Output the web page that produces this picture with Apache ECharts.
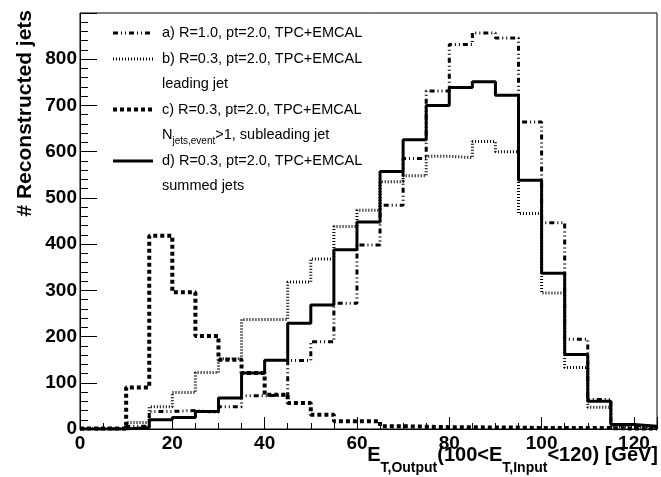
<!DOCTYPE html>
<html><head><meta charset="utf-8">
<script src="https://cdn.jsdelivr.net/npm/echarts@6/dist/echarts.min.js"></script>
<style>html,body{margin:0;padding:0;background:#fff}#c{width:661px;height:477px}</style>
</head><body><div id="c"></div>
<script>
// Bin edges (GeV) and histogram contents
const binEdges = [0,5,10,15,20,25,30,35,40,45,50,55,60,65,70,75,80,85,90,95,100,105,110,115,120,125];
const seriesA = [0,0,6,38,40,36,48,72,73,148,189,272,398,484,585,731,832,857,846,664,446,194,64,8,4];
const seriesB = [0,0,14,48,79,122,152,237,237,318,368,438,473,535,548,590,587,622,600,466,294,133,47,5,2];
const seriesC = [1,1,90,418,296,201,150,121,74,56,31,17,17,6,5,4,4,3,3,2,2,2,2,1,1];
const seriesD = [0,0,3,20,25,38,67,121,149,229,268,388,448,557,626,700,739,751,722,538,337,161,60,10,6];
const yTicks = [0,100,200,300,400,500,600,700,800];
const xTicks = [0,20,40,60,80,100,120];
const legendLabels = [
  'a) R=1.0, pt=2.0, TPC+EMCAL',
  'b) R=0.3, pt=2.0, TPC+EMCAL',
  'leading jet',
  'c) R=0.3, pt=2.0, TPC+EMCAL',
  '{m|N}{s|jets,event}{m|>1, subleading jet}',
  'd) R=0.3, pt=2.0, TPC+EMCAL',
  'summed jets'
];
const yTitle = '# Reconstructed jets';
const xTitle = '{m|E}{s|T,Output}{m|(100<E}{s|T,Input}{m|<120) [GeV]}';

const FF = "'Liberation Sans', Arial, Helvetica, sans-serif";
function hist(vals){
  const d = vals.map((v,i)=>[binEdges[i], v]);
  d.push([binEdges[vals.length], vals[vals.length-1]]);
  return d;
}
const styles = {
  a: {width:3, type:[5,3,1,3,1,3]},
  b: {width:3, type:[1,2]},
  c: {width:4, type:[4,3]},
  d: {width:3, type:'solid'}
};
function mk(name, vals, st){
  return {name, type:'line', step:'end', data:hist(vals), xAxisIndex:0, yAxisIndex:0,
    symbol:'none', showSymbol:false, animation:false,
    lineStyle:{color:'#000', width:st.width, type:st.type, cap:'butt'}};
}
const chart = echarts.init(document.getElementById('c'), null, {renderer:'canvas'});

const legendRows = [
  {y:33, st:styles.a, text:legendLabels[0]},
  {y:59, st:styles.b, text:legendLabels[1]},
  {y:84, st:null, text:legendLabels[2]},
  {y:109.5, st:styles.c, text:legendLabels[3]},
  {y:135, st:null, text:legendLabels[4], rich:true},
  {y:161, st:styles.d, text:legendLabels[5]},
  {y:186, st:null, text:legendLabels[6]}
];
const graphics = [];
legendRows.forEach(r=>{
  if (r.st) {
    graphics.push({type:'line', shape:{x1:113,y1:r.y,x2:153,y2:r.y},
      style:{stroke:'#000', lineWidth:r.st.width, lineDash: r.st.type==='solid'?null:r.st.type}});
  }
  if (r.rich) {
    graphics.push({type:'text', x:162, y:r.y-8, style:{text:r.text, fill:'#000',
      textAlign:'left', textVerticalAlign:'top',
      rich:{
        m:{fontSize:14.5, fontFamily:FF, lineHeight:16, verticalAlign:'top', fill:'#000', color:'#000'},
        s:{fontSize:10, fontFamily:FF, lineHeight:10, padding:[9,0,0,0], verticalAlign:'top', fill:'#000', color:'#000'}
      }}});
  } else {
    graphics.push({type:'text', x:162, y:r.y, style:{text:r.text, fill:'#000',
      font:'14.5px '+FF, textAlign:'left', textVerticalAlign:'middle'}});
  }
});
graphics.push({type:'text', x:25, y:10, rotation:Math.PI/2, style:{text:yTitle, fill:'#000',
  font:'bold 21px '+FF, textAlign:'right', textVerticalAlign:'middle'}});
graphics.push({type:'text', x:658, y:445, style:{text:xTitle, fill:'#000',
  textAlign:'right', textVerticalAlign:'top',
  rich:{
    m:{fontSize:20, fontWeight:'bold', fontFamily:FF, lineHeight:22, verticalAlign:'top', fill:'#000', color:'#000'},
    s:{fontSize:14, fontWeight:'bold', fontFamily:FF, lineHeight:14, padding:[16,0,0,0], verticalAlign:'top', fill:'#000', color:'#000'}
  }}});

const option = {
  animation:false,
  backgroundColor:'#fff',
  grid:{left:80, right:4, top:13, bottom:48, show:true, borderColor:'#000', borderWidth:1,
    backgroundColor:'#fff', containLabel:false, outerBoundsMode:'none'},
  xAxis:[
    {type:'value', min:0, max:125, interval:20, position:'bottom',
      axisLine:{show:true, lineStyle:{color:'#000', width:1}},
      axisTick:{show:true, inside:true, length:12, lineStyle:{color:'#000', width:1}},
      axisLabel:{show:true, margin:5, color:'#000', fontSize:19, fontWeight:'bold', fontFamily:FF,
        formatter:v=> xTicks.indexOf(v)>=0 ? String(v) : '', hideOverlap:false},
      splitLine:{show:false}},
    {type:'value', min:0, max:125, interval:5, position:'bottom',
      axisLine:{show:false},
      axisTick:{show:true, inside:true, length:6, lineStyle:{color:'#000', width:1}},
      axisLabel:{show:false}, splitLine:{show:false}}
  ],
  yAxis:{type:'value', min:0, max:900, interval:100,
    axisLine:{show:true, lineStyle:{color:'#000', width:1}},
    axisTick:{show:true, inside:true, length:17, lineStyle:{color:'#000', width:1}},
    minorTick:{show:true, splitNumber:5, length:8, lineStyle:{color:'#000', width:1}},
    axisLabel:{show:true, margin:3, color:'#000', fontSize:19, fontWeight:'bold', fontFamily:FF,
      formatter:v=> yTicks.indexOf(v)>=0 ? String(v) : '', hideOverlap:false},
    splitLine:{show:false}, minorSplitLine:{show:false}},
  series:[
    mk('a', seriesA, styles.a),
    mk('b', seriesB, styles.b),
    mk('c', seriesC, styles.c),
    mk('d', seriesD, styles.d)
  ],
  graphic:graphics
};
chart.setOption(option);
</script>
</body></html>
